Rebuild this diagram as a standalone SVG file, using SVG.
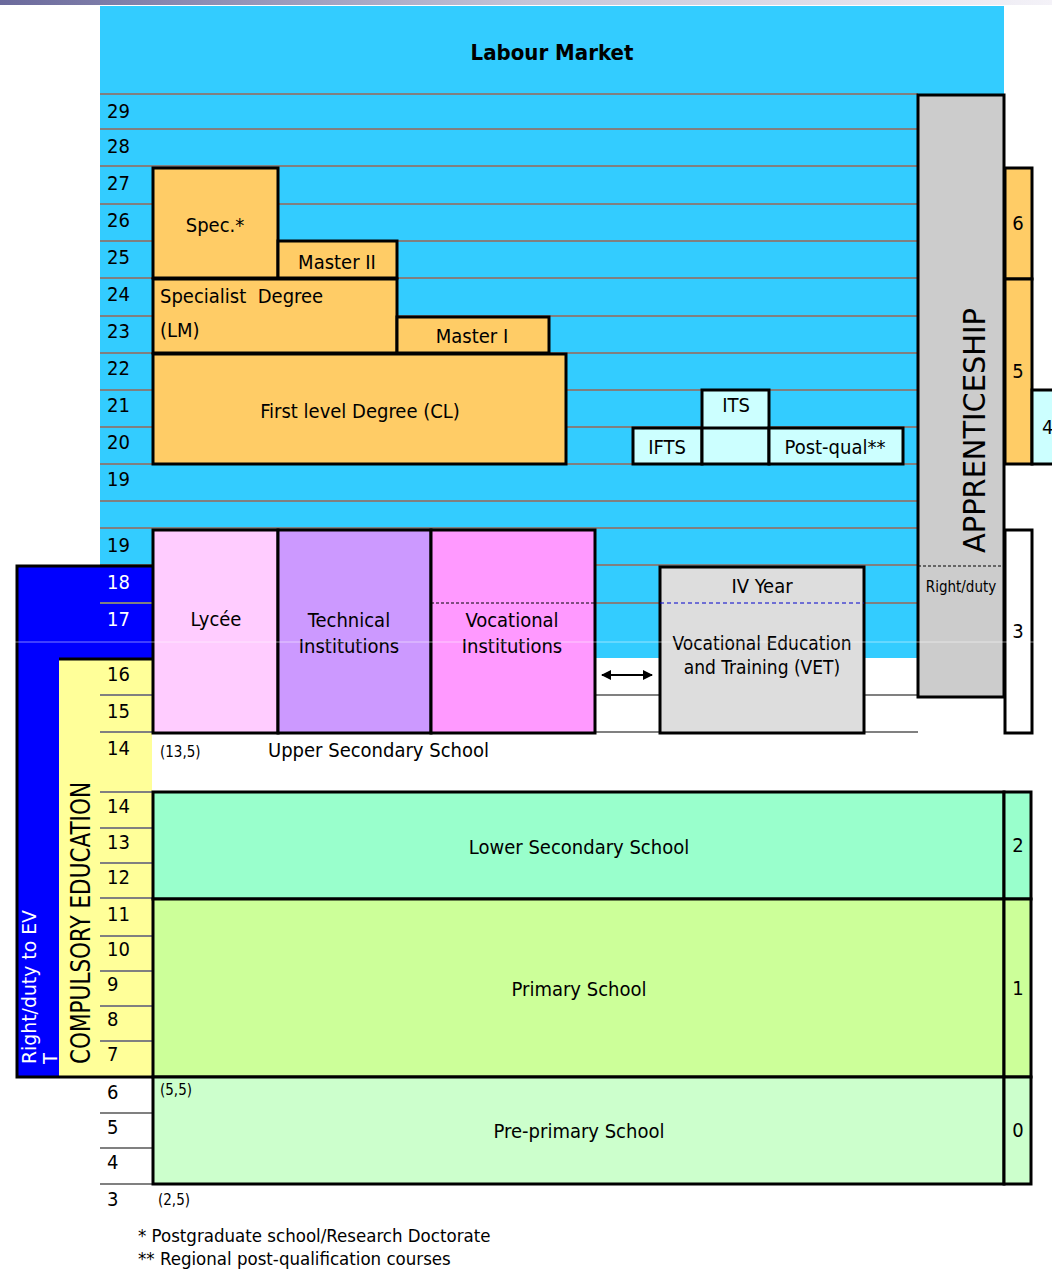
<svg xmlns="http://www.w3.org/2000/svg" width="1052" height="1271" viewBox="0 0 1052 1271">
<defs>
<linearGradient id="topbar" x1="0" y1="0" x2="1" y2="0">
<stop offset="0" stop-color="#6b6a9c"/>
<stop offset="0.5" stop-color="#c4c4d8"/>
<stop offset="1" stop-color="#f4f2f8"/>
</linearGradient>
<marker id="ah" viewBox="0 0 10 10" refX="9" refY="5" markerWidth="10" markerHeight="10" markerUnits="userSpaceOnUse" orient="auto-start-reverse">
<path d="M0,0 L10,5 L0,10 z" fill="#000"/>
</marker>
<style>
text{font-family:"DejaVu Sans Condensed","DejaVu Sans",sans-serif;fill:#000}
.t{font-size:20px;text-anchor:middle}
.l{font-size:20px}
.n{font-size:20px}
.s{font-size:15px}
.w{fill:#fff}
.box{stroke:#000;stroke-width:3}
.grid{stroke:#808080;stroke-width:2}
.sep{stroke:#000;stroke-width:3}
</style>
</defs>
<rect x="0" y="0" width="1052" height="1271" fill="#fff"/>
<rect x="0" y="0" width="1052" height="5" fill="url(#topbar)"/>

<g id="labour-market">
<rect x="100" y="6" width="904" height="88" fill="#33ccff"/>
<rect x="100" y="94" width="818" height="471" fill="#33ccff"/>
<rect x="595" y="565" width="323" height="93" fill="#33ccff"/>
<text x="552" y="60" style="font-size:22px;font-weight:bold;text-anchor:middle">Labour Market</text>
</g>

<g id="grid">
<path class="grid" d="M100,94H918 M100,129H918 M100,166H918 M100,204H918 M100,241H918 M100,278H918 M100,316H918 M100,353H918 M100,390H918 M100,427H918 M100,464H918 M100,501H918 M100,528H918 M100,565H918 M100,603H918 M100,695H918 M100,732H918"/>
<path class="grid" d="M100,792H152 M100,828H152 M100,863H152 M100,898H152 M100,936H152 M100,971H152 M100,1006H152 M100,1041H152 M100,1113H152 M100,1148H152 M100,1184H152"/>
</g>

<g id="right-duty-panel">
<rect x="17" y="566" width="135" height="511" fill="#0000ff"/>
<rect x="59" y="659" width="93" height="418" fill="#ffff99"/>
<path class="grid" d="M100,603H152 M100,695H152 M100,732H152 M100,792H152 M100,828H152 M100,863H152 M100,898H152 M100,936H152 M100,971H152 M100,1006H152 M100,1041H152"/>
<path class="sep" d="M152,566H17V1077H152 M59,659H152" fill="none"/>
<text transform="translate(36,1064) rotate(-90)" style="font-size:20px" class="w" textLength="154" lengthAdjust="spacingAndGlyphs">Right/duty to EV</text>
<text transform="translate(57,1064) rotate(-90)" style="font-size:20px" class="w">T</text>
<text transform="translate(90,1064) rotate(-90)" style="font-size:26px" textLength="282" lengthAdjust="spacingAndGlyphs">COMPULSORY EDUCATION</text>
</g>

<g id="age-labels" class="n">
<text x="107" y="118">29</text>
<text x="107" y="153">28</text>
<text x="107" y="190">27</text>
<text x="107" y="227">26</text>
<text x="107" y="264">25</text>
<text x="107" y="301">24</text>
<text x="107" y="338">23</text>
<text x="107" y="375">22</text>
<text x="107" y="412">21</text>
<text x="107" y="449">20</text>
<text x="107" y="486">19</text>
<text x="107" y="552">19</text>
<text x="107" y="589" class="w">18</text>
<text x="107" y="626" class="w">17</text>
<text x="107" y="681">16</text>
<text x="107" y="718">15</text>
<text x="107" y="755">14</text>
<text x="107" y="813">14</text>
<text x="107" y="849">13</text>
<text x="107" y="884">12</text>
<text x="107" y="921">11</text>
<text x="107" y="956">10</text>
<text x="107" y="991">9</text>
<text x="107" y="1026">8</text>
<text x="107" y="1061">7</text>
<text x="107" y="1099">6</text>
<text x="107" y="1134">5</text>
<text x="107" y="1169">4</text>
<text x="107" y="1206">3</text>
</g>

<g id="spec">
<rect class="box" x="153" y="168" width="125" height="110" fill="#ffcc66"/>
<text class="t" x="215" y="232">Spec.*</text>
</g>
<g id="master2">
<rect class="box" x="278" y="241" width="119" height="37" fill="#ffcc66"/>
<text class="t" x="337" y="269">Master II</text>
</g>
<g id="specialist-degree">
<rect class="box" x="153" y="279" width="244" height="74" fill="#ffcc66"/>
<text class="l" x="160" y="303" xml:space="preserve">Specialist  Degree</text>
<text class="l" x="160" y="337">(LM)</text>
</g>
<g id="master1">
<rect class="box" x="397" y="317" width="152" height="36" fill="#ffcc66"/>
<text class="t" x="472" y="343">Master I</text>
</g>
<g id="first-level-degree">
<rect class="box" x="153" y="354" width="413" height="110" fill="#ffcc66"/>
<text class="t" x="360" y="418">First level Degree (CL)</text>
</g>

<g id="ifts">
<rect class="box" x="633" y="428" width="69" height="36" fill="#ccffff"/>
<text class="t" x="667" y="454">IFTS</text>
</g>
<g id="its">
<rect class="box" x="702" y="390" width="67" height="74" fill="#ccffff"/>
<line class="sep" x1="702" y1="428" x2="769" y2="428"/>
<text class="t" x="736" y="412">ITS</text>
</g>
<g id="post-qual">
<rect class="box" x="769" y="428" width="134" height="36" fill="#ccffff"/>
<text class="t" x="835" y="454">Post-qual**</text>
</g>

<g id="apprenticeship">
<rect class="box" x="918" y="95" width="86" height="602" fill="#cccccc"/>
<line x1="918" y1="566" x2="1004" y2="566" stroke="#000" stroke-width="1" stroke-dasharray="3,2"/>
<text transform="translate(985,553) rotate(-90)" style="font-size:30px" textLength="245" lengthAdjust="spacingAndGlyphs">APPRENTICESHIP</text>
<text class="s" x="961" y="592" text-anchor="middle">Right/duty</text>
</g>

<g id="level6">
<rect class="box" x="1005" y="168" width="27" height="111" fill="#ffcc66"/>
<text class="n" x="1018" y="230" text-anchor="middle">6</text>
</g>
<g id="level5">
<rect class="box" x="1005" y="279" width="27" height="185" fill="#ffcc66"/>
<text class="n" x="1018" y="378" text-anchor="middle">5</text>
</g>
<g id="level4">
<rect class="box" x="1032" y="390" width="24" height="74" fill="#ccffff"/>
<text class="n" x="1042" y="434">4</text>
</g>
<g id="level3">
<rect class="box" x="1005" y="530" width="27" height="203" fill="#ffffff"/>
<text class="n" x="1018" y="638" text-anchor="middle">3</text>
</g>

<g id="lycee">
<rect class="box" x="153" y="530" width="125" height="203" fill="#ffccff"/>
<text class="t" x="216" y="626">Lycée</text>
</g>
<g id="technical">
<rect class="box" x="278" y="530" width="153" height="203" fill="#cc99ff"/>
<text class="t" x="349" y="627">Technical</text>
<text class="t" x="349" y="653">Institutions</text>
</g>
<g id="vocational">
<rect class="box" x="431" y="530" width="164" height="203" fill="#ff99ff"/>
<line x1="431" y1="603" x2="595" y2="603" stroke="#000" stroke-width="1" stroke-dasharray="3,2"/>
<text class="t" x="512" y="627">Vocational</text>
<text class="t" x="512" y="653">Institutions</text>
</g>
<g id="upper-secondary-label">
<text class="s" x="160" y="757">(13,5)</text>
<text class="l" x="268" y="757">Upper Secondary School</text>
</g>

<g id="vet">
<rect class="box" x="660" y="567" width="204" height="166" fill="#dddddd"/>
<line x1="660" y1="603" x2="864" y2="603" stroke="#0000cc" stroke-width="1" stroke-dasharray="4,3"/>
<text class="t" x="762" y="593">IV Year</text>
<text class="t" x="762" y="650" style="font-size:19px">Vocational Education</text>
<text class="t" x="762" y="674" style="font-size:19px">and Training (VET)</text>
</g>

<g id="lower-secondary">
<rect class="box" x="153" y="792" width="851" height="107" fill="#99ffcc"/>
<text class="t" x="579" y="854">Lower Secondary School</text>
</g>
<g id="level2">
<rect class="box" x="1004" y="792" width="27" height="107" fill="#99ffcc"/>
<text class="n" x="1018" y="852" text-anchor="middle">2</text>
</g>
<g id="primary">
<rect class="box" x="153" y="899" width="851" height="178" fill="#ccff99"/>
<text class="t" x="579" y="996">Primary School</text>
</g>
<g id="level1">
<rect class="box" x="1004" y="899" width="27" height="178" fill="#ccff99"/>
<text class="n" x="1018" y="995" text-anchor="middle">1</text>
</g>
<g id="pre-primary">
<rect class="box" x="153" y="1077" width="851" height="107" fill="#ccffcc"/>
<text class="s" x="160" y="1095">(5,5)</text>
<text class="t" x="579" y="1138">Pre-primary School</text>
</g>
<g id="level0">
<rect class="box" x="1004" y="1077" width="27" height="107" fill="#ccffcc"/>
<text class="n" x="1018" y="1137" text-anchor="middle">0</text>
</g>

<g id="notes">
<text class="s" x="158" y="1205">(2,5)</text>
<text x="138" y="1242" style="font-size:18.5px">* Postgraduate school/Research Doctorate</text>
<text x="138" y="1265" style="font-size:18.5px">** Regional post-qualification courses</text>
</g>

<g id="connectors">
<line x1="602" y1="675" x2="652" y2="675" stroke="#000" stroke-width="2" marker-start="url(#ah)" marker-end="url(#ah)"/>
</g>

<line x1="0" y1="642" x2="1052" y2="642" stroke="#fff" stroke-width="1" opacity="0.5"/>
</svg>
